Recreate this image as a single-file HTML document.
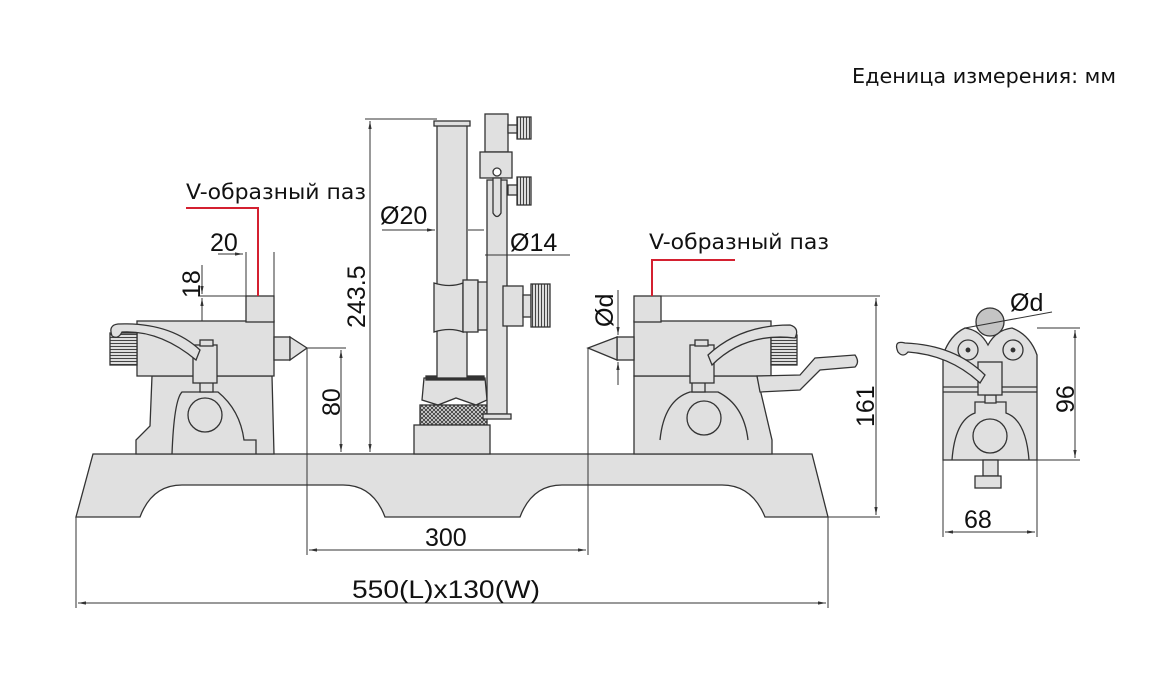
<!DOCTYPE html>
<html><head><meta charset="utf-8"><style>
html,body{margin:0;padding:0;background:#fff}
svg{display:block}
text{font-family:"Liberation Sans",sans-serif;fill:#111}
</style></head><body>
<svg width="1150" height="687" viewBox="0 0 1150 687" xmlns="http://www.w3.org/2000/svg">
<defs>
<marker id="a" viewBox="0 0 10 10" refX="10" refY="5" markerWidth="8" markerHeight="8" orient="auto-start-reverse"><path d="M0,3 L10,5 L0,7" fill="#333"/></marker>
<pattern id="kn" width="20" height="3" patternUnits="userSpaceOnUse"><rect width="20" height="3" fill="#ddd"/><line x1="0" y1="1.5" x2="20" y2="1.5" stroke="#444" stroke-width="1"/></pattern>
<pattern id="kv" width="3" height="20" patternUnits="userSpaceOnUse"><rect width="3" height="20" fill="#ddd"/><line x1="1.5" y1="0" x2="1.5" y2="20" stroke="#444" stroke-width="1"/></pattern>
<pattern id="xh" width="4" height="4" patternUnits="userSpaceOnUse"><rect width="4" height="4" fill="#ddd"/><path d="M0,0 L4,4 M4,0 L0,4" stroke="#333" stroke-width="0.8"/></pattern>
</defs>
<text x="852" y="83" font-size="20" textLength="264" lengthAdjust="spacingAndGlyphs" style='font-family:"DejaVu Sans",sans-serif'>Еденица измерения: мм</text>

<g fill="#e0e0e0" stroke="#333" stroke-width="1.3">
<path d="M93,454 L812,454 L828,517 L765,517 Q752,485 722,485 L562,485 Q532,485 520,517 L385,517 Q373,485 343,485 L182,485 Q152,485 140,517 L76,517 Z"/>

<!-- left block -->
<path d="M152,376 L272,376 L274,454 L136,454 L136,440 L150,426 Z"/>
<path d="M172,454 Q174,400 182,392 L218,392 Q240,410 244,440 L256,440 L256,454" fill="none"/>
<circle cx="205" cy="415" r="17"/>
<rect x="137" y="321" width="137" height="55"/>
<rect x="246" y="296" width="28" height="26"/>
<rect x="110" y="333" width="27" height="32" fill="url(#kn)"/>
<rect x="274" y="337" width="16" height="23"/>
<path d="M290,337 L307,348 L290,360 Z"/>
<rect x="200" y="376" width="13" height="16"/>
<rect x="193" y="345" width="24" height="38"/>
<rect x="200" y="340" width="13" height="6"/>
<path d="M112,336 Q108,325 118,324 Q170,322 200,350 L196,360 Q160,330 122,332 Q118,340 112,336 Z"/>

<!-- column -->
<rect x="420" y="405" width="67" height="20" fill="url(#xh)"/>
<rect x="414" y="425" width="76" height="29"/>
<path d="M424,378 L485,378 L487,400 L476,405 L456,398 L438,405 L422,400 Z"/>
<rect x="426" y="376" width="58" height="4" fill="#333"/>
<rect x="437" y="125" width="30" height="253"/>
<rect x="434" y="121" width="36" height="5"/>
<path d="M434,283 Q450,288 463,283 L463,332 Q450,327 434,332 Z"/>
<rect x="463" y="280" width="15" height="52"/>
<rect x="478" y="282" width="11" height="48"/>
<rect x="487" y="180" width="20" height="234"/>
<rect x="483" y="414" width="28" height="5"/>
<rect x="503" y="286" width="20" height="40"/>
<rect x="523" y="295" width="8" height="22"/>
<rect x="531" y="284" width="19" height="43" fill="url(#kv)"/>
<rect x="485" y="114" width="23" height="38"/>
<rect x="480" y="152" width="32" height="26"/>
<circle cx="497" cy="172" r="4" fill="#fff"/>
<path d="M493,178 L501,178 L501,213 Q497,220 493,213 Z"/>
<rect x="508" y="125" width="10" height="8"/>
<rect x="517" y="117" width="14" height="22" fill="url(#kv)"/>
<rect x="508" y="185" width="10" height="10"/>
<rect x="517" y="177" width="14" height="28" fill="url(#kv)"/>

<!-- right block -->
<path d="M634,376 L757,376 L772,440 L772,454 L634,454 Z"/>
<path d="M660,440 Q664,400 690,392 L718,392 Q744,405 748,440" fill="none"/>
<circle cx="704" cy="418" r="17"/>
<rect x="634" y="321" width="137" height="55"/>
<rect x="634" y="296" width="27" height="26"/>
<rect x="771" y="335" width="26" height="30" fill="url(#kn)"/>
<rect x="617" y="337" width="17" height="23"/>
<path d="M617,337 L588,348 L617,360 Z"/>
<rect x="692" y="376" width="13" height="16"/>
<rect x="690" y="345" width="24" height="38"/>
<rect x="695" y="340" width="13" height="6"/>
<path d="M708,355 Q740,325 790,325 Q800,328 795,338 Q745,332 712,365 Z"/>
<path d="M757,376 L800,375 L815,358 L855,355 Q860,362 855,367 L820,370 L800,390 L760,392 Z"/>

<!-- side view -->
<path d="M943,460 L943,355 Q950,335 965,328 Q980,330 988,345 Q996,330 1012,328 Q1030,335 1037,355 L1037,460 Z"/>
<line x1="943" y1="387" x2="1037" y2="387"/>
<line x1="943" y1="392" x2="1037" y2="392"/>
<circle cx="968" cy="350" r="10"/><circle cx="968" cy="350" r="1.8" fill="#333"/>
<circle cx="1013" cy="350" r="10"/><circle cx="1013" cy="350" r="1.8" fill="#333"/>
<path d="M952,460 Q955,420 975,413 L975,402 L1006,402 L1006,413 Q1026,420 1029,460" fill="none"/>
<circle cx="990" cy="436" r="17"/>
<rect x="985" y="395" width="11" height="8"/>
<rect x="978" y="362" width="24" height="33"/>
<rect x="983" y="460" width="15" height="16"/>
<rect x="975" y="476" width="26" height="12"/>
<path d="M898,352 Q893,340 905,343 Q955,345 985,375 L980,383 Q950,355 908,352 Q903,358 898,352 Z"/>
<circle cx="990" cy="322" r="14" fill="#c4c4c4"/>
</g>

<g stroke="#333" stroke-width="1" fill="none">
<line x1="365" y1="119" x2="437" y2="119"/>
<line x1="370" y1="121" x2="370" y2="452" marker-start="url(#a)" marker-end="url(#a)"/>
<line x1="307" y1="348" x2="346" y2="348"/>
<line x1="341" y1="350" x2="341" y2="452" marker-start="url(#a)" marker-end="url(#a)"/>
<line x1="307" y1="348" x2="307" y2="555"/>
<line x1="588" y1="348" x2="588" y2="555"/>
<line x1="309" y1="550" x2="586" y2="550" marker-start="url(#a)" marker-end="url(#a)"/>
<line x1="76" y1="517" x2="76" y2="608"/>
<line x1="828" y1="517" x2="828" y2="608"/>
<line x1="78" y1="603" x2="826" y2="603" marker-start="url(#a)" marker-end="url(#a)"/>
<line x1="198" y1="296" x2="246" y2="296"/>
<line x1="202" y1="265" x2="202" y2="294" marker-end="url(#a)"/>
<line x1="202" y1="321" x2="202" y2="298" marker-end="url(#a)" />
<line x1="218" y1="254" x2="243" y2="254" marker-end="url(#a)"/>
<line x1="246" y1="252" x2="246" y2="296"/>
<line x1="274" y1="252" x2="274" y2="296"/>
<line x1="382" y1="230" x2="435" y2="230" marker-end="url(#a)"/>
<line x1="468" y1="230" x2="484" y2="230"/>
<line x1="485" y1="255" x2="570" y2="255"/>
<line x1="661" y1="296" x2="880" y2="296"/>
<line x1="876" y1="298" x2="876" y2="515" marker-start="url(#a)" marker-end="url(#a)"/>
<line x1="828" y1="517" x2="880" y2="517"/>
<line x1="618" y1="290" x2="618" y2="335" marker-end="url(#a)"/>
<line x1="618" y1="385" x2="618" y2="362" marker-end="url(#a)"/>
<line x1="1037" y1="328" x2="1080" y2="328"/>
<line x1="1037" y1="460" x2="1080" y2="460"/>
<line x1="1075" y1="330" x2="1075" y2="458" marker-start="url(#a)" marker-end="url(#a)"/>
<line x1="943" y1="460" x2="943" y2="537"/>
<line x1="1037" y1="460" x2="1037" y2="537"/>
<line x1="945" y1="532" x2="1035" y2="532" marker-start="url(#a)" marker-end="url(#a)"/>
<line x1="965" y1="328" x2="1052" y2="312"/>
</g>

<g stroke="#d42030" stroke-width="2" fill="none">
<polyline points="186,208 258,208 258,296"/>
<polyline points="735,260 652,260 652,296"/>
</g>

<g font-size="25">
<text x="186" y="199" font-size="21" textLength="180" lengthAdjust="spacingAndGlyphs" style='font-family:"DejaVu Sans",sans-serif'>V-образный паз</text>
<text x="649" y="249" font-size="21" textLength="180" lengthAdjust="spacingAndGlyphs" style='font-family:"DejaVu Sans",sans-serif'>V-образный паз</text>
<text x="210" y="251">20</text>
<text x="380" y="224">Ø20</text>
<text x="510" y="251">Ø14</text>
<text x="1010" y="311">Ød</text>
<text x="425" y="546">300</text>
<text x="352" y="598" textLength="188" lengthAdjust="spacingAndGlyphs">550(L)x130(W)</text>
<text x="964" y="528">68</text>
<text transform="translate(200,298) rotate(-90)">18</text>
<text transform="translate(365,328) rotate(-90)">243.5</text>
<text transform="translate(340,416) rotate(-90)">80</text>
<text transform="translate(613,327) rotate(-90)">Ød</text>
<text transform="translate(874,427) rotate(-90)">161</text>
<text transform="translate(1074,413) rotate(-90)">96</text>
</g>
</svg>
</body></html>
